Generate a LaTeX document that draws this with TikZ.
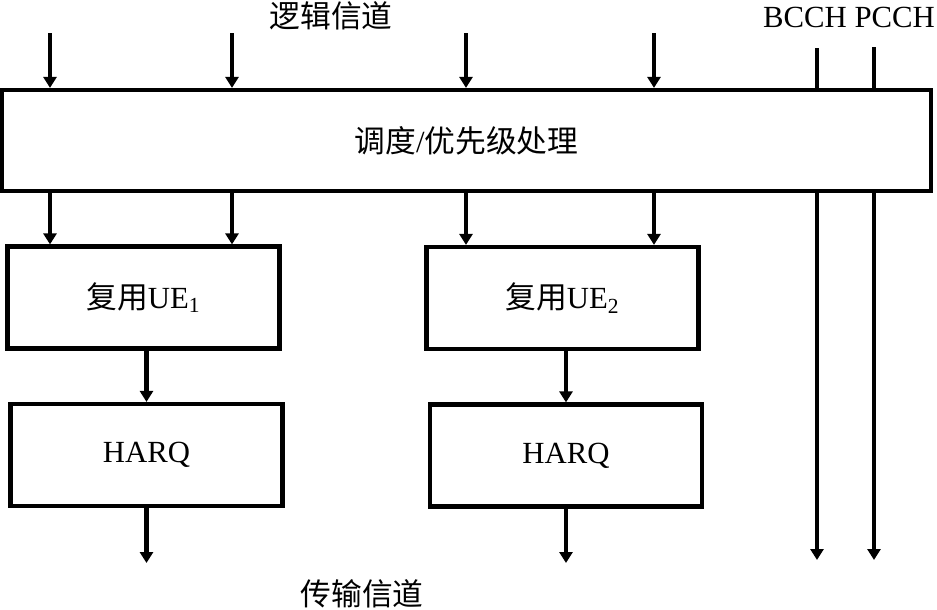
\documentclass[tikz,border=0pt]{standalone}
\usepackage{fontspec}
\setmainfont{Liberation Serif}
\newfontfamily\cjk{Noto Sans CJK SC}
\usetikzlibrary{arrows.meta}

\begin{document}
\begin{tikzpicture}[
          x=0.02cm, y=-0.02cm,
          block/.style={
              draw,
              line width=2.4pt,
              minimum width=5.44cm,
              minimum height=2.04cm,
              inner sep=0pt,
              font=\fontsize{17.5}{20}\selectfont
            },
          bigblock/.style={block, minimum width=18.58cm, minimum height=2.02cm},
          chan/.style={inner sep=0pt, font=\fontsize{17.5}{20}\selectfont},
          arr/.style={-{Triangle[length=0.22cm, width=0.26cm]}, line width=2.4pt},
          bus/.style={line width=2.4pt}
        ]
        \useasboundingbox (0,0) rectangle (937,609);

        \node[bigblock] (sched) at (466.5,140.5) {{\cjk 调度}/{\cjk 优先级处理}};
        \node[block] (ue1) at (143.5,297.5) {{\cjk 复用}UE\textsubscript{1}};
        \node[block] (harq1) at (146.5,455) {HARQ};
        \node[block] (ue2) at (562.5,298) {{\cjk 复用}UE\textsubscript{2}};
        \node[block] (harq2) at (566,455.5) {HARQ};

        \node[chan] (logch) at (331,16) {\cjk 逻辑信道};
        \node[chan] (bcpc) at (849,17) {BCCH PCCH};
        \node[chan] (trch) at (362,594) {\cjk 传输信道};

        \coordinate (in1) at (50,33);
        \coordinate (in2) at (232,33);
        \coordinate (in3) at (466,33);
        \coordinate (in4) at (654,33);
        \coordinate (bcch) at (817,48);
        \coordinate (pcch) at (874,47);
        \coordinate (out1) at (146,563);
        \coordinate (out2) at (567,563);
        \coordinate (bcchout) at (817,560);
        \coordinate (pcchout) at (874,560);

        \draw[arr] (in1) -- (in1 |- sched.north);
        \draw[arr] (in2) -- (in2 |- sched.north);
        \draw[arr] (in3) -- (in3 |- sched.north);
        \draw[arr] (in4) -- (in4 |- sched.north);
        \draw[bus] (bcch) -- (bcch |- sched.north);
        \draw[bus] (pcch) -- (pcch |- sched.north);

        \draw[arr] (in1 |- sched.south) -- (in1 |- ue1.north);
        \draw[arr] (in2 |- sched.south) -- (in2 |- ue1.north);
        \draw[arr] (in3 |- sched.south) -- (in3 |- ue2.north);
        \draw[arr] (in4 |- sched.south) -- (in4 |- ue2.north);
        \draw[arr] (bcch |- sched.south) -- (bcchout);
        \draw[arr] (pcch |- sched.south) -- (pcchout);

        \draw[arr] (harq1.north |- ue1.south) -- (harq1.north);
        \draw[arr] (harq2.north |- ue2.south) -- (harq2.north);
        \draw[arr] (harq1.south) -- (harq1.south |- out1);
        \draw[arr] (harq2.south) -- (harq2.south |- out2);
      \end{tikzpicture}
\end{document}
